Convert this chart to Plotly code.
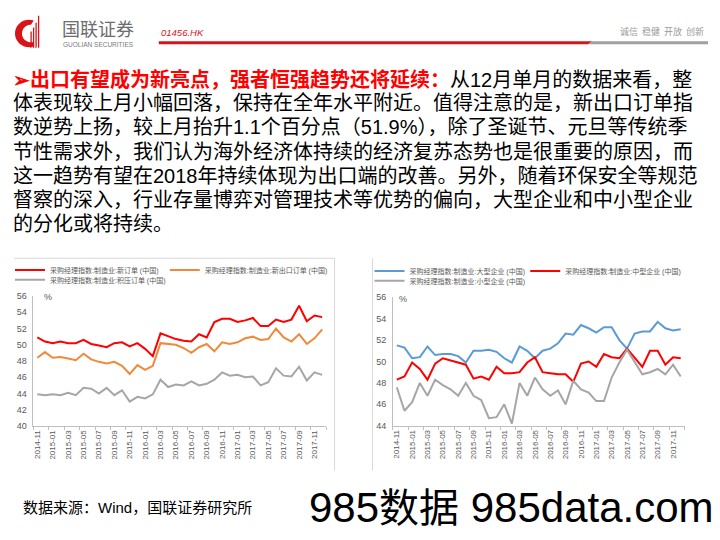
import math
import pandas as pd
import plotly.graph_objects as go

W, H = 720, 540

# ---- data ----
months = list(pd.period_range("2014-11", "2017-12", freq="M").strftime("%Y-%m"))

new_orders = [50.9, 50.4, 50.2, 50.4, 50.2, 50.2, 50.6, 50.1, 49.9, 49.7, 50.2, 50.3,
              49.8, 50.2, 49.5, 48.6, 51.4, 51.0, 50.7, 50.5, 50.4, 51.3, 50.9, 52.8,
              53.2, 53.2, 52.8, 53.0, 53.3, 52.3, 52.3, 53.1, 52.8, 53.1, 54.8, 52.9,
              53.6, 53.4]
export_orders = [48.4, 49.1, 48.4, 48.5, 48.3, 48.1, 48.9, 48.2, 47.9, 47.7, 47.9, 47.4,
                 46.4, 47.5, 46.9, 47.4, 50.2, 50.1, 50.0, 49.6, 49.0, 49.7, 50.1, 49.2,
                 50.3, 50.1, 50.3, 50.8, 51.0, 50.6, 50.7, 52.0, 50.9, 50.4, 51.3, 50.1,
                 50.8, 51.9]
backlog_orders = [43.9, 43.8, 43.9, 43.8, 44.1, 43.8, 44.7, 44.6, 44.0, 44.7, 43.8, 44.4,
                  43.0, 43.6, 43.4, 43.9, 45.7, 44.8, 45.1, 45.0, 45.5, 45.0, 45.2, 45.7,
                  46.6, 46.2, 46.3, 46.0, 46.1, 45.0, 45.4, 47.1, 46.2, 46.1, 47.3, 45.6,
                  46.6, 46.3]

large_firms = [51.5, 51.3, 50.3, 50.4, 51.4, 50.6, 50.7, 50.7, 50.5, 49.9, 51.0, 51.0,
               51.1, 50.9, 50.3, 49.9, 51.4, 51.0, 50.3, 51.0, 51.2, 51.7, 52.6, 52.5,
               53.4, 53.1, 52.7, 53.2, 53.2, 52.0, 51.2, 52.6, 52.8, 52.8, 53.7, 53.1,
               52.9, 53.0]
medium_firms = [48.3, 48.6, 49.9, 49.3, 48.3, 49.8, 50.3, 50.1, 49.9, 49.7, 48.4, 48.6,
                48.3, 49.5, 48.9, 48.9, 49.0, 49.9, 50.4, 49.0, 48.9, 48.8, 48.8, 48.1,
                49.8, 50.0, 49.5, 50.7, 50.4, 50.3, 51.2, 50.4, 49.5, 51.0, 51.0, 49.7,
                50.4, 50.3]
small_firms = [47.6, 45.4, 46.2, 48.0, 46.8, 48.3, 47.8, 47.4, 46.8, 48.0, 46.8, 46.4,
               44.7, 44.8, 46.0, 44.2, 48.0, 46.8, 48.5, 47.4, 46.8, 47.3, 46.0, 48.2,
               47.4, 47.1, 46.3, 46.3, 48.5, 49.9, 51.1, 49.9, 48.8, 49.0, 49.3, 48.8,
               49.7, 48.6]

left_series = [
    ("采购经理指数:制造业:新订单 (中国)", new_orders, "#ff0000"),
    ("采购经理指数:制造业:新出口订单 (中国)", export_orders, "#f08a3a"),
    ("采购经理指数:制造业:积压订单 (中国)", backlog_orders, "#a6a6a6"),
]
right_series = [
    ("采购经理指数:制造业:大型企业 (中国)", large_firms, "#5b9bd5"),
    ("采购经理指数:制造业:中型企业 (中国)", medium_firms, "#ff0000"),
    ("采购经理指数:制造业:小型企业 (中国)", small_firms, "#a6a6a6"),
]

para_lines = [
    "<span style='color:#ff0000'><b>➢出口有望成为新亮点，强者恒强趋势还将延续：</b></span>从12月单月的数据来看，整",
    "体表现较上月小幅回落，保持在全年水平附近。值得注意的是，新出口订单指",
    "数逆势上扬，较上月抬升1.1个百分点（51.9%），除了圣诞节、元旦等传统季",
    "节性需求外，我们认为海外经济体持续的经济复苏态势也是很重要的原因，而",
    "这一趋势有望在2018年持续体现为出口端的改善。另外，随着环保安全等规范",
    "督察的深入，行业存量博弈对管理技术等优势的偏向，大型企业和中小型企业",
    "的分化或将持续。",
]

FONT = "Liberation Sans, Noto Sans CJK SC, sans-serif"
AXIS_GREY = "#bfbfbf"
TXT_GREY = "#595959"


def fx(px):
    return px / W


def fy(py):
    return 1 - py / H


idx = list(range(len(months)))
fig = go.Figure()

legend_pos = [(9, 270), (164, 270), (9, 280), (369, 271), (525, 271), (369, 281)]
n = 0
for axis, series in (("", left_series), ("2", right_series)):
    for name, vals, color in series:
        lg = "legend" if n == 0 else f"legend{n + 1}"
        fig.add_trace(go.Scatter(
            x=idx, y=vals, mode="lines", name=name,
            line=dict(color=color, width=2),
            xaxis="x" + axis, yaxis="y" + axis, legend=lg,
        ))
        lx, ly = legend_pos[n]
        fig.layout[lg] = dict(
            x=fx(lx), y=fy(ly), xanchor="left", yanchor="middle",
            bgcolor="rgba(0,0,0,0)", borderwidth=0,
            font=dict(family=FONT, size=7, color=TXT_GREY),
            itemwidth=30, tracegroupgap=0,
        )
        n += 1

xcommon = dict(
    range=[-0.5, 37.5], showline=True, linecolor=AXIS_GREY, linewidth=1,
    showgrid=False, zeroline=False, ticks="",
    tickvals=idx[::2], ticktext=months[::2], tickangle=-90,
    tickfont=dict(family=FONT, size=8, color=TXT_GREY),
    minor=dict(tickmode="array", tickvals=[i - 0.5 for i in range(0, 39, 2)],
               ticks="outside", ticklen=3, tickcolor=AXIS_GREY, showgrid=False),
)
ycommon = dict(
    showline=True, linecolor=AXIS_GREY, linewidth=1, showgrid=False,
    zeroline=False, ticks="", dtick=2, ticklabelstandoff=4,
    tickfont=dict(family=FONT, size=9, color=TXT_GREY),
)

fig.update_layout(
    width=W, height=H, margin=dict(l=0, r=0, t=0, b=0),
    paper_bgcolor="white", plot_bgcolor="white", showlegend=True,
    xaxis=dict(xcommon, domain=[fx(32.5), fx(325.5)], anchor="y"),
    yaxis=dict(ycommon, domain=[fy(429), fy(296.5)], range=[40, 56], anchor="x"),
    xaxis2=dict(xcommon, domain=[fx(392.5), fx(684.5)], anchor="y2"),
    yaxis2=dict(ycommon, domain=[fy(428.7), fy(297.7)], range=[44, 56], anchor="x2"),
)

shapes = []
ann = []


def line_px(x0, y0, x1, y1, color, width=1):
    shapes.append(dict(type="line", xref="paper", yref="paper",
                       x0=fx(x0), y0=fy(y0), x1=fx(x1), y1=fy(y1),
                       line=dict(color=color, width=width)))


def poly_px(pts, color):
    path = "M " + " L ".join(f"{fx(x):.5f},{fy(y):.5f}" for x, y in pts) + " Z"
    shapes.append(dict(type="path", xref="paper", yref="paper", path=path,
                       fillcolor=color, line=dict(width=0)))


def text_px(x, y, text, size, color="black", anchor="left", family=FONT):
    ann.append(dict(x=fx(x), y=fy(y), xref="paper", yref="paper", text=text,
                    showarrow=False, xanchor=anchor, yanchor="middle",
                    font=dict(family=family, size=size, color=color)))


# chart frames
line_px(13, 258, 334, 258, "#d9d9d9")
line_px(334, 258, 334, 474, "#d9d9d9")
line_px(372, 258, 372, 474, "#d9d9d9")

# % labels
text_px(41, 297, "%", 9, TXT_GREY)
text_px(397, 300, "%", 9, TXT_GREY)

# header logo
outer = [(28 + 14 * math.cos(math.radians(a)), 29 - 14 * math.sin(math.radians(a)))
         for a in range(70, 300, 10)]
inner = [(30 + 9 * math.cos(math.radians(a)), 29 - 9 * math.sin(math.radians(a)))
         for a in range(290, 80, -10)]
poly_px(outer + inner, "#d7141a")
for bx, top in [(29.5, 27), (32, 23), (34.5, 18), (37, 11)]:
    poly_px([(bx, 44), (bx, top), (bx + 1.3, top), (bx + 1.3, 43)], "#d7141a")

text_px(59, 23.5, "国联证券", 18, "#6d6d6d", family="Noto Sans CJK SC")
text_px(60, 40, "GUOLIAN SECURITIES", 6.5, "#7a7a7a")
text_px(158, 28, "<i>01456.HK</i>", 9.5, "#d7141a")
text_px(706, 27, "诚信  稳健  开放  创新", 9, "#9a9a9a", anchor="right",
        family="Noto Sans CJK SC")
poly_px([(158, 37), (592, 37), (588, 40), (158, 40)], "#d7141a")
poly_px([(592, 37), (708, 37), (708, 40), (588, 40)], "#a0a0a0")

# paragraph
for k, t in enumerate(para_lines):
    text_px(10, 75.5 + 24.6 * k, t, 20, "black")

# footer
text_px(20, 512, "数据来源：Wind，国联证券研究所", 15, "black")
text_px(306, 512, "985<span style='font-size:40px'>数据</span> 985data.com", 42,
        "black", family="Liberation Sans Narrow, Liberation Sans, Noto Sans CJK SC")

fig.update_layout(shapes=shapes, annotations=ann)
fig.write_html("out.html", config={"displayModeBar": False},
               post_script="document.body.style.margin='0px';")
